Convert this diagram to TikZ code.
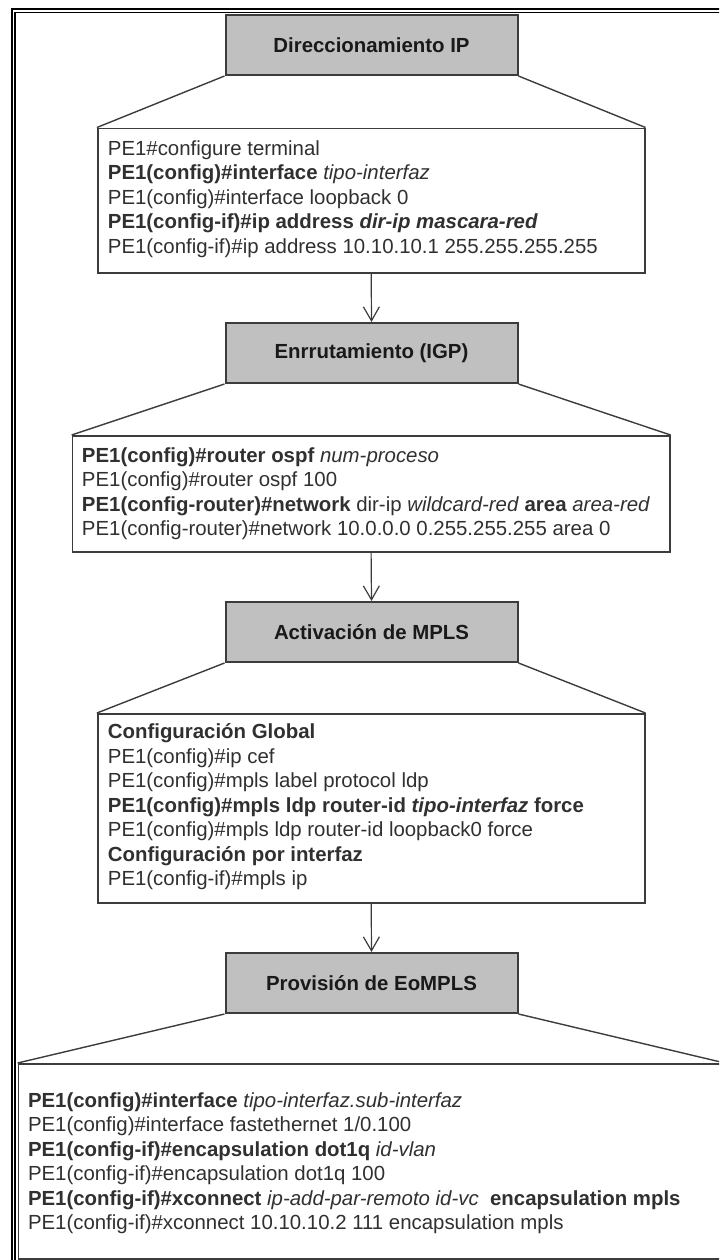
\documentclass[tikz,border=0pt]{standalone}
\usepackage{fontspec}
\setmainfont{Liberation Sans}
\usetikzlibrary{
  arrows.meta,
  calc
}
\definecolor{stageGray}{HTML}{C0C0C0}
\definecolor{edgeGray}{HTML}{3C3C3C}
\definecolor{cmdGray}{HTML}{303030}
\tikzset{
  stageHead/.style={
    draw=edgeGray,
    line width=1pt,
    fill=stageGray,
    minimum width=146pt,
    minimum height=30pt,
    inner sep=0pt,
    text=black!90,
    font=\bfseries\fontsize{10.2}{12.25}\selectfont
  },
  cmdBox/.style={
    draw=edgeGray,
    line width=0.9pt,
    fill=white,
    anchor=north,
    inner sep=0pt
  },
  cmdText/.style={
    anchor=base west,
    align=left,
    inner sep=0pt,
    text=cmdGray,
    font=\fontsize{10.2}{12.25}\selectfont
  },
  flowArrow/.style={-{Straight Barb[length=7pt,width=8pt]}, line width=0.6pt, edgeGray},
  fanLine/.style={line width=0.7pt, edgeGray},
  frameLine/.style={line width=0.85pt, black}
}

\begin{document}
\begin{tikzpicture}[x=0.5pt,y=-0.5pt]
  \useasboundingbox (0,0) rectangle (719,1260);
  \clip (0,0) rectangle (719,1260);

  % double frame, cut at the right and bottom edges
  \draw[frameLine] (12,1300) -- (12,9) -- (760,9);
  \draw[frameLine] (15.3,1300) -- (15.3,12.5) -- (760,12.5);

  % stage 1
  \node[stageHead] (h1) at (371.5,45) {Direccionamiento IP};
  \node[cmdBox, minimum width=273.4pt, minimum height=72.25pt]
    (b1) at (371.2,127.5) {};
  \draw[fanLine] (h1.south west) -- (b1.north west);
  \draw[fanLine] (h1.south east) -- (b1.north east);
  % text anchored on the baseline of its last line
  \node[cmdText] (t1) at ($(b1.north west)+(10.6,125.5)$)
    {PE1\#configure terminal\\
    \textbf{PE1(config)\#interface} \textit{tipo-interfaz}\\
    PE1(config)\#interface loopback 0\\
    \textbf{PE1(config-if)\#ip address \textit{dir-ip mascara-red}}\\
    PE1(config-if)\#ip address 10.10.10.1 255.255.255.255};

  % stage 2
  \node[stageHead] (h2) at (371.5,353) {Enrrutamiento (IGP)};
  \node[cmdBox, minimum width=298.6pt, minimum height=58pt]
    (b2) at (371.1,435) {};
  \draw[fanLine] (h2.south west) -- (b2.north west);
  \draw[fanLine] (h2.south east) -- (b2.north east);
  \node[cmdText] (t2) at ($(b2.north west)+(10,100.5)$)
    {\textbf{PE1(config)\#router ospf} \textit{num-proceso}\\
    PE1(config)\#router ospf 100\\
    \textbf{PE1(config-router)\#network} dir-ip \textit{wildcard-red} \textbf{area} \textit{area-red}\\
    PE1(config-router)\#network 10.0.0.0 0.255.255.255 area 0};

  % stage 3
  \node[stageHead] (h3) at (371.5,632) {Activación de MPLS};
  \node[cmdBox, minimum width=273.4pt, minimum height=94.5pt]
    (b3) at (371.2,713) {};
  \draw[fanLine] (h3.south west) -- (b3.north west);
  \draw[fanLine] (h3.south east) -- (b3.north east);
  \node[cmdText] (t3) at ($(b3.north west)+(10.6,172.5)$)
    {\textbf{Configuración Global}\\
    PE1(config)\#ip cef\\
    PE1(config)\#mpls label protocol ldp\\
    \textbf{PE1(config)\#mpls ldp router-id \textit{tipo-interfaz} force}\\
    PE1(config)\#mpls ldp router-id loopback0 force\\
    \textbf{Configuración por interfaz}\\
    PE1(config-if)\#mpls ip};

  % stage 4
  \node[stageHead] (h4) at (371.5,983) {Provisión de EoMPLS};
  \node[cmdBox, minimum width=352.75pt, minimum height=97.5pt]
    (b4) at (371.25,1063) {};
  \draw[fanLine] (h4.south west) -- (b4.north west);
  \draw[fanLine] (h4.south east) -- (b4.north east);
  \node[cmdText] (t4) at ($(b4.north west)+(10,166.5)$)
    {\textbf{PE1(config)\#interface} \textit{tipo-interfaz.sub-interfaz}\\
    PE1(config)\#interface fastethernet 1/0.100\\
    \textbf{PE1(config-if)\#encapsulation dot1q} \textit{id-vlan}\\
    PE1(config-if)\#encapsulation dot1q 100\\
    \textbf{PE1(config-if)\#xconnect} \textit{ip-add-par-remoto id-vc}\ \ \textbf{encapsulation mpls}\\
    PE1(config-if)\#xconnect 10.10.10.2 111 encapsulation mpls};

  % arrows between the stages
  \draw[flowArrow] (b1.south) -- (h2.north);
  \draw[flowArrow] (b2.south) -- (h3.north);
  \draw[flowArrow] (b3.south) -- (h4.north);
\end{tikzpicture}
\end{document}
